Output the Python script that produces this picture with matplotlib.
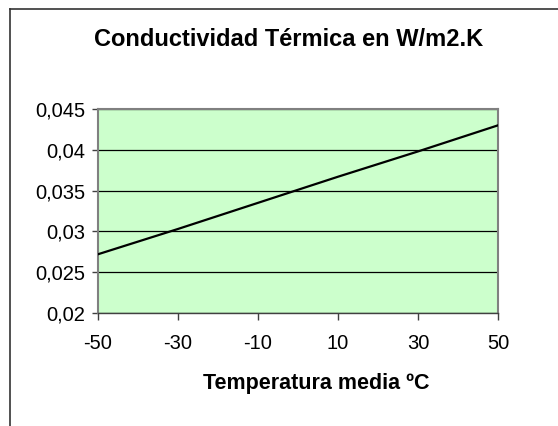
import matplotlib.pyplot as plt
import numpy as np
from matplotlib.ticker import FuncFormatter
from matplotlib.lines import Line2D

# temperatura media (ºC) y conductividad (W/m2.K)
temperatura = np.array([-50, -30, -10, 10, 30, 50])
conductividad = np.array([0.0272, 0.0303, 0.0335, 0.0367, 0.0398, 0.0430])
xticks = [-50, -30, -10, 10, 30, 50]
yticks = [0.02, 0.025, 0.03, 0.035, 0.04, 0.045]

plt.rcParams['font.family'] = ['Liberation Sans', 'DejaVu Sans']
plt.rcParams['axes.unicode_minus'] = False

fig = plt.figure(figsize=(5.58, 4.26), dpi=100)
ax = fig.add_axes([98/558, 1-313/426, 400/558, 204/426])
ax.set_facecolor('#CCFFCC')

ax.plot(temperatura, conductividad, color='black', lw=1.6, zorder=3)

ax.set_xlim(-50, 50)
ax.set_ylim(0.02, 0.045)
ax.set_xticks(xticks)
ax.set_yticks(yticks)
ax.yaxis.set_major_formatter(FuncFormatter(lambda v, p: ('%g' % round(v, 4)).replace('.', ',')))
ax.grid(axis='y', color='black', lw=0.9)
ax.set_axisbelow(True)
for s in ax.spines.values():
    s.set_color('#808080')
    s.set_linewidth(1.5)
ax.spines['bottom'].set_color('#404040')
ax.spines['bottom'].set_linewidth(1)
ax.tick_params(axis='x', direction='out', length=5, color='#404040', width=1,
               labelsize=14.5, pad=10)
ax.tick_params(axis='y', direction='out', length=4, color='#404040', width=1,
               labelsize=14.5, pad=5)

fig.text(0.518, 1-40/426, 'Conductividad Térmica en W/m2.K', ha='center', va='center',
         fontsize=17, fontweight='bold')
fig.text(316/558, 1-384/426, 'Temperatura media ºC', ha='center', va='center',
         fontsize=15.5, fontweight='bold')

# borde del area del grafico (recortado a la derecha y abajo)
fig.add_artist(Line2D([10/558, 10/558], [0, 1-9/426], color='#333333', lw=1.2,
                      transform=fig.transFigure))
fig.add_artist(Line2D([10/558, 1], [1-9/426, 1-9/426], color='#333333', lw=1.2,
                      transform=fig.transFigure))

fig.savefig('out.png', dpi=100)
